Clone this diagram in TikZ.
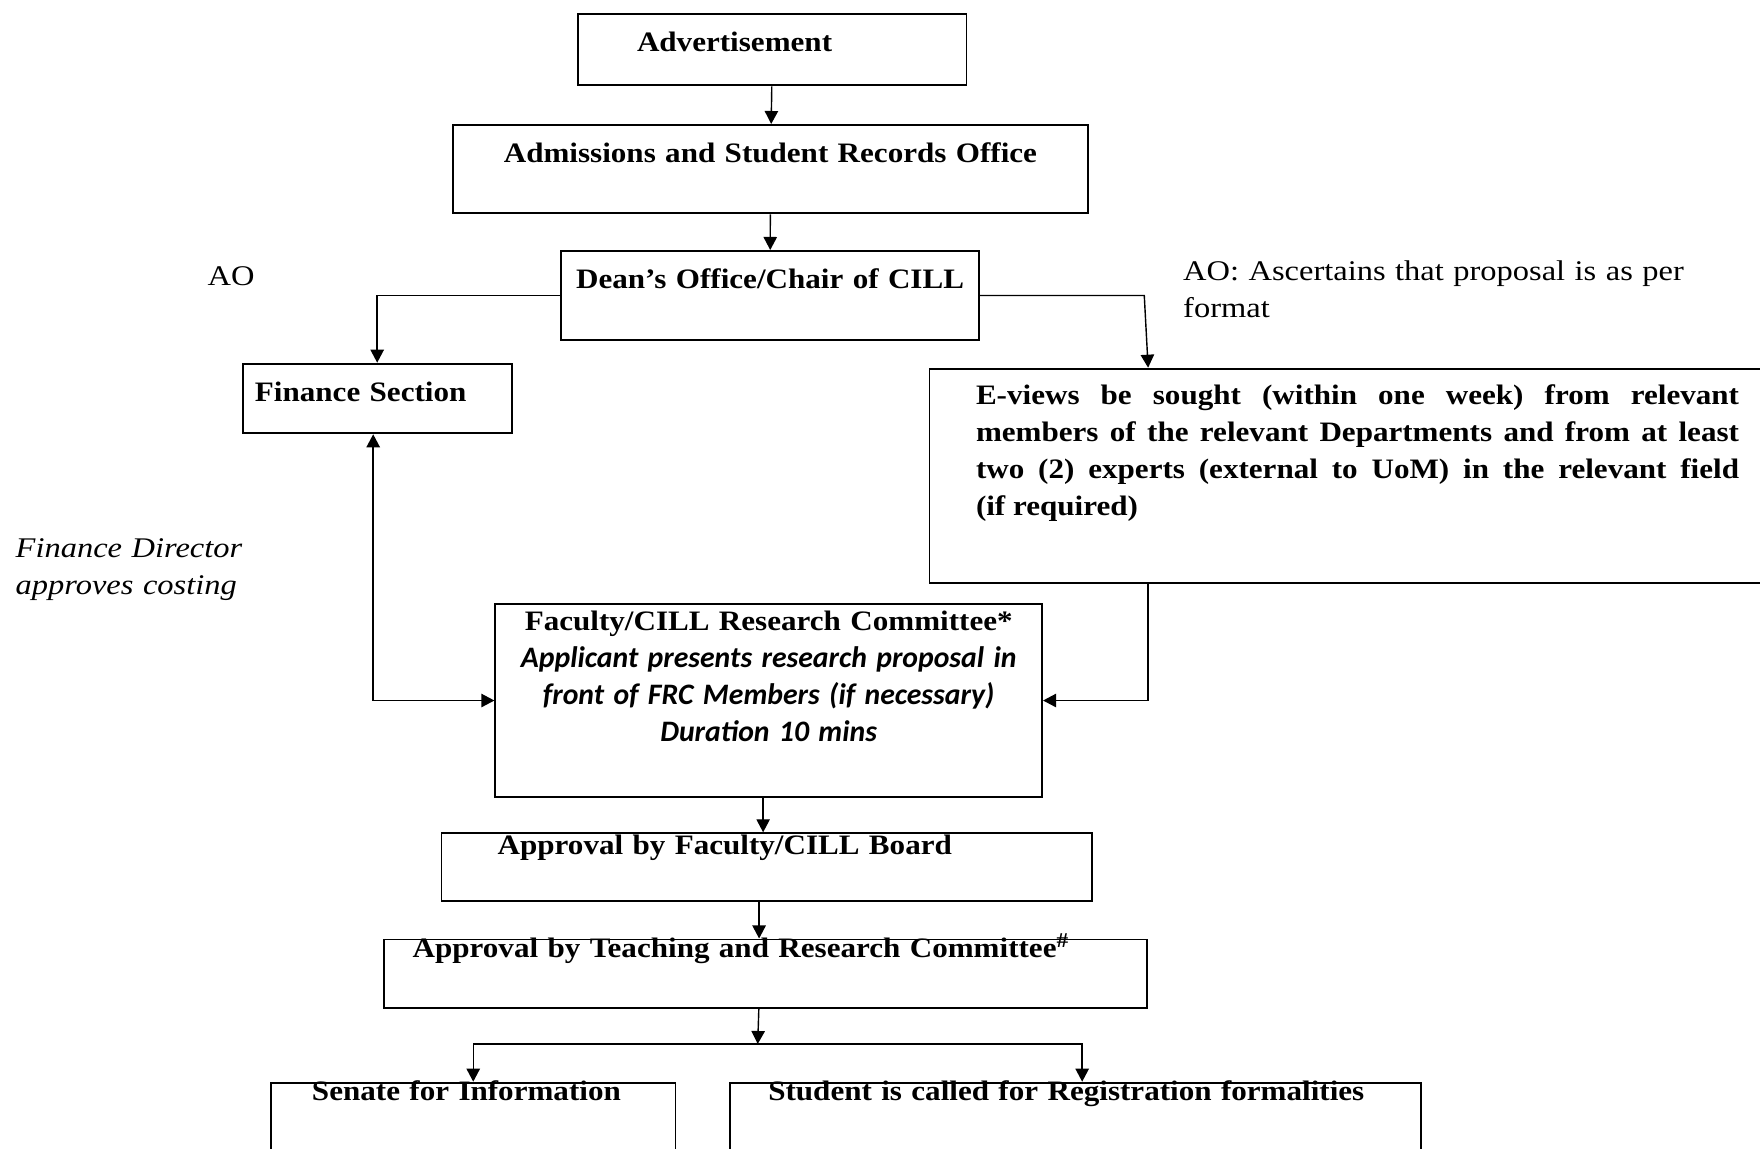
\documentclass[tikz,border=0pt]{standalone}
\usepackage{fontspec}
\setmainfont{Liberation Serif}[FakeStretch=1.14, BoldFeatures={FakeStretch=1.105}]
\newfontfamily\calibri{Carlito}
\usetikzlibrary{arrows.meta}
\tikzstyle{block} = [rectangle, draw=black, line width=0.55pt, anchor=north west, inner ysep=0pt, font=\fontsize{8}{10.5}\selectfont\bfseries]
\tikzstyle{note} = [anchor=base west, inner sep=0pt, align=left, font=\fontsize{8.1}{10.5}\selectfont]
\tikzstyle{arrow} = [thin,->,>={Triangle[length=3.7pt,width=3.8pt]}]

\begin{document}
\begin{tikzpicture}[x=0.01cm, y=-0.01cm]
\useasboundingbox (0,0) rectangle (1760,1149);

% main column
\node (adv) [block, inner xsep=0.587cm, text width=2.706cm, text height=0.374cm, text depth=0.336cm, align=left] at (577.3,13.3) {Advertisement};
\node (adm) [block, inner xsep=0.1cm, text width=6.146cm, text height=0.377cm, text depth=0.506cm, align=center] at (452,124) {Admissions and Student Records Office};
\node (dean) [block, inner xsep=0.05cm, text width=4.08cm, text height=0.373cm, text depth=0.517cm, align=center] at (560,250) {Dean’s Office/Chair of CILL};
\node (fin) [block, inner xsep=0.122cm, text width=2.443cm, text height=0.383cm, text depth=0.313cm, align=left] at (241.8,362.7) {Finance Section};
\node (eview) [block, inner xsep=0.465cm, text width=7.626cm, text height=0.356cm, text depth=1.784cm, align=justify] at (928.5,367.7) {E-views be sought (within one week) from relevant\linebreak members of the relevant Departments and from at least\linebreak two (2) experts (external to UoM) in the relevant field\linebreak (if required)};
\node (fac) [block, inner xsep=0.1cm, text width=5.264cm, text height=0.26cm, text depth=1.664cm, align=center] at (494.4,603.3) {Faculty/CILL Research Committee*\\ {\calibri\fontsize{8.45}{10.5}\selectfont\itshape Applicant presents research proposal in\\ front of FRC Members (if necessary)\\ Duration 10 mins}};
\node (board) [block, inner xsep=0.562cm, text width=5.373cm, text height=0.21cm, text depth=0.467cm, align=left] at (440.5,832.3) {Approval by Faculty/CILL Board};
\node (teach) [block, inner xsep=0.284cm, text width=7.059cm, text height=0.182cm, text depth=0.501cm, align=left] at (383.3,938.5) {Approval by Teaching and Research Committee\textsuperscript{\#}};
\node (senate) [block, inner xsep=0.41cm, text width=3.223cm, text height=0.183cm, text depth=1.2cm, align=left] at (270,1081.7) {Senate for Information};
\node (stud) [block, inner xsep=0.383cm, text width=6.144cm, text height=0.183cm, text depth=1.2cm, align=left] at (729,1081.7) {Student is called for Registration formalities};

% side notes
\node (ao) [note] at (207,285.7) {AO};
\node (aonote) [note, text width=5.2cm] at (1182.5,280.7) {AO: Ascertains that proposal is as per\\ format};
\node (fdnote) [note, text width=2.6cm, font=\fontsize{8.1}{10.6}\selectfont\itshape] at (15,557.3) {Finance Director\\ approves costing};

\coordinate (split) at (757.7,1044);

\draw [arrow] (adv) -- (adm);
\draw [arrow] (adm) -- (dean);
\draw [arrow] (dean.west) -| (fin.north);
\draw [arrow] (dean.east) -- ([xshift=1.64cm]dean.east) -- ([xshift=2.195cm]eview.north west);
\draw [arrow, <->] ([xshift=-0.04cm]fin.south) |- (fac.west);
\draw [arrow] ([xshift=2.195cm]eview.south west) |- (fac.east);
\draw [arrow] ([xshift=-0.056cm]fac.south) -- ([xshift=-0.056cm]fac.south |- board.north);
\draw [arrow] ([xshift=-0.074cm]board.south) -- ([xshift=-0.074cm]board.south |- teach.north);
\draw [arrow] ([xshift=-0.07cm]teach.south) -- (split);
\draw [arrow] (split) -| (senate.north);
\draw [arrow] (split) -| ([xshift=0.065cm]stud.north);
\end{tikzpicture}
\end{document}
